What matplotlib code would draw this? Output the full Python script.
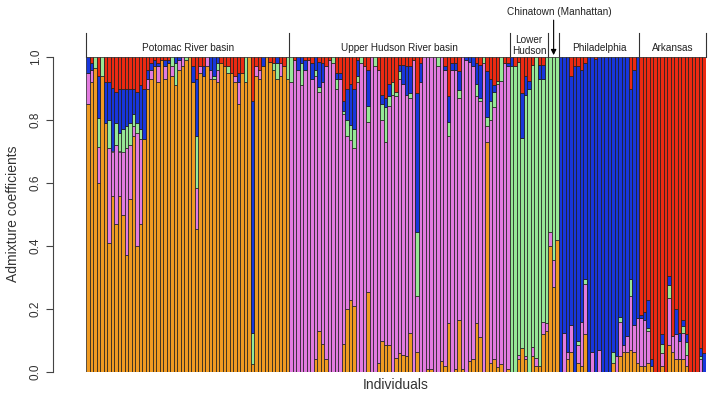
import numpy as np
import matplotlib
matplotlib.use("Agg")
import matplotlib.pyplot as plt
from matplotlib.transforms import blended_transform_factory

plt.rcParams['font.family'] = ['Liberation Sans', 'DejaVu Sans']

group_names = ["Potomac River basin", "Upper Hudson River basin", "Lower\nHudson",
               "Chinatown (Manhattan)", "Philadelphia", "Arkansas"]
cluster_colors = ['#F09A22', '#E27BDF', '#96E896', '#1836DC', '#EC2A12']
y_ticks = [0.0, 0.2, 0.4, 0.6, 0.8, 1.0]
y_tick_labels = ["0.0", "0.2", "0.4", "0.6", "0.8", "1.0"]

# ---- Potomac River basin (58 individuals) ----
potomac_orange = [.85, .92, .965, .60, .94, .79, .41, .56, .47, .56, .50, .37, .55, .75, .40, .47, .74, .90, .93, .97,
                  .92, .99, .93, .98, .94, .91, .96, .97, .99, 1, .92, .455, .95, .94, .97, .93, .93, .92, .98, .97,
                  .95, .95, .92, .85, .95, .92, 1, .025, .94, .93, .97, 1, .985, .96, .93, .94, .97, .93]
potomac_violet = [.10, .04, 0, .115, 0, 0, .30, .14, .25, .14, .20, .34, .17, .03, .36, .27, 0, .03, .03, 0,
                  .05, 0, .04, 0, .03, 0, .03, .03, 0, 0, 0, .13, .02, 0, .03, .03, 0, .04, 0, 0,
                  0, 0, .02, .07, 0, 0, 0, 0, .03, .03, 0, 0, 0, 0, 0, .04, 0, 0]
potomac_green = [0, 0, .035, .09, .06, 0, .09, 0, .07, .06, .07, .07, .07, .04, .03, .03, 0, 0, 0, 0,
                 0, 0, 0, 0, .03, .07, 0, 0, .01, 0, 0, .165, 0, 0, 0, 0, .01, .02, 0, 0,
                 .02, 0, 0, 0, 0, .08, 0, .10, 0, 0, 0, 0, 0, .02, .05, 0, 0, .07]
potomac_blue = [.05, .02, 0, .135, 0, .13, .12, .20, .10, .14, .13, .12, .11, .08, .10, .14, .16, .03, .02, .02,
                .01, 0, .02, .01, 0, .02, .01, 0, 0, 0, .05, .18, 0, .03, 0, .04, .06, .02, 0, 0,
                0, 0, 0, .03, 0, 0, 0, .735, 0, 0, .03, 0, 0, 0, .02, 0, 0, 0]
potomac_red = [0, .02, 0, .06, 0, .08, .08, .10, .11, .10, .10, .10, .10, .10, .11, .09, .10, .04, .02, .01,
               .02, .01, .01, .01, 0, 0, 0, 0, 0, 0, .03, .07, .03, .03, 0, 0, 0, 0, .02, .03,
               .03, .05, .06, .05, .05, 0, 0, .14, .03, .04, 0, 0, .015, .02, 0, .02, .03, 0]

# ---- Upper Hudson River basin (63 individuals) ----
uhudson_orange = [0, 0, 0, 0, 0, 0, 0, .04, .13, .09, .04, 0, 0, 0, 0, .09, .20, .23, .21, 0,
                  0, 0, .255, 0, 0, .03, .10, .085, .085, 0, .045, .06, .055, .05, .125, 0, .065, 0, 0, .01,
                  .01, 0, 0, .035, .02, .155, 0, .01, .165, .01, 0, .035, .04, .155, .11, 0, .73, .03, .04, .015,
                  .025, 0, .01]
uhudson_violet = [.92, .99, .96, .91, .96, .99, .93, .90, .76, .83, .93, .99, .98, .90, .93, .73, .55, .505, .50, .92,
                  .98, .97, .54, 1, .97, .93, .70, .645, .76, .88, .83, .87, .86, .83, .745, .99, .175, .92, 1, .99,
                  .99, 1, .97, .965, .94, .595, .96, .95, .705, .99, .99, .95, .93, .72, .75, .98, .05, .77, .80, .90,
                  .90, .98, .96]
uhudson_green = [.08, 0, 0, .07, 0, 0, 0, .02, .015, 0, 0, 0, .02, .03, 0, .01, .05, .05, .06, .02,
                 .02, 0, .05, 0, .03, 0, .05, .11, .03, .04, .015, .025, 0, 0, .015, 0, .205, 0, 0, 0,
                 0, 0, .03, 0, 0, .045, 0, 0, .025, 0, 0, 0, 0, .04, .01, .02, .03, .06, .05, .01,
                 .075, 0, 0]
uhudson_blue = [0, 0, .04, .02, .03, 0, .05, .04, .08, .06, 0, 0, 0, .02, .02, .03, .10, .13, .13, .05,
                0, 0, .115, 0, 0, 0, .03, .03, .04, 0, 0, .02, .06, .09, .085, 0, .44, .06, 0, 0,
                0, 0, 0, 0, .01, .08, .02, .02, .06, 0, .01, .015, .03, .065, .105, 0, .145, .07, .02, 0,
                0, 0, .01]
uhudson_red = [0, .01, 0, 0, .01, .01, .02, 0, .015, .02, .03, .01, 0, .05, .05, .14, .10, .085, .10, .01,
               0, .03, .04, 0, 0, .04, .12, .13, .085, .08, .11, .025, .025, .03, .03, .01, .115, .02, 0, 0,
               0, 0, 0, 0, .03, .125, .02, .02, .045, 0, 0, 0, 0, .02, .025, 0, .045, .07, .09, .075,
               0, .02, .02]

# ---- Lower Hudson (11 individuals) ----
lhudson_orange = [0, 0, .04, .075, .04, 0, .05, .02, .02, .12, .13]
lhudson_violet = [0, 0, .015, 0, .01, 0, .03, .025, 0, .04, .025]
lhudson_green = [.97, .97, .93, .667, .83, .90, .895, .955, .91, .77, .845]
lhudson_blue = [.03, 0, 0, .143, .06, .025, 0, 0, .045, .045, 0]
lhudson_red = [0, .03, .015, .115, .06, .075, .025, 0, .025, .025, 0]

# ---- Chinatown (Manhattan) (3 individuals) ----
china_orange = [.40, .27, .42]
china_violet = [.045, .085, 0]
china_green = [.555, .645, .58]
china_blue = [0, 0, 0]
china_red = [0, 0, 0]

# ---- Philadelphia (23 individuals) ----
phila_orange = [0, 0, .04, .065, 0, .027, .02, .12, 0, 0, 0, 0, 0, 0, 0, .03, 0, .05, .065, .065, .07, .065, .03]
phila_violet = [0, .125, .025, .085, 0, .06, .14, .16, 0, .065, 0, .07, 0, 0, 0, 0, .05, .11, .02, .05, .17, .085, .14]
phila_green = [0, 0, 0, 0, 0, .01, 0, .015, 0, 0, 0, 0, 0, 0, 0, .035, 0, .015, 0, 0, .055, 0, 0]
phila_blue = [1, .875, .935, .79, .97, .873, .80, .685, 1, .935, .995, .93, 1, 1, 1, .935, .95, .825, .915, .885, .605, .81, .83]
phila_red = [0, 0, 0, .06, .03, .03, .04, .02, 0, 0, .005, 0, 0, 0, 0, 0, 0, 0, 0, 0, .10, .04, 0]

# ---- Arkansas (19 individuals) ----
ark_orange = [.02, .02, .03, .02, 0, 0, .02, 0, .085, .065, .04, .04, .04, .02, 0, 0, 0, 0, 0]
ark_violet = [.15, .145, .10, 0, 0, 0, .04, 0, .15, .05, .08, .06, .085, .035, 0, 0, 0, .04, 0]
ark_green = [0, 0, .01, 0, 0, 0, .03, 0, .04, 0, 0, 0, .02, .04, 0, 0, 0, .01, 0]
ark_blue = [.01, .025, .09, .02, 0, 0, .03, 0, .03, 0, .08, .025, .02, .025, 0, 0, 0, .025, .06]
ark_red = [.82, .81, .77, .96, 1, 1, .88, 1, .695, .885, .80, .875, .835, .88, 1, 1, 1, .925, .94]

orange = potomac_orange + uhudson_orange + lhudson_orange + china_orange + phila_orange + ark_orange
violet = potomac_violet + uhudson_violet + lhudson_violet + china_violet + phila_violet + ark_violet
green = potomac_green + uhudson_green + lhudson_green + china_green + phila_green + ark_green
blue = potomac_blue + uhudson_blue + lhudson_blue + china_blue + phila_blue + ark_blue
red = potomac_red + uhudson_red + lhudson_red + china_red + phila_red + ark_red
group_sizes = [len(potomac_orange), len(uhudson_orange), len(lhudson_orange),
               len(china_orange), len(phila_orange), len(ark_orange)]

components = [np.array(c, dtype=float) for c in (orange, violet, green, blue, red)]
n = len(orange)
x = np.arange(n)

fig = plt.figure(figsize=(7.2, 4.0), dpi=100)
ax = fig.add_axes([86 / 720, 28 / 400, 620 / 720, 315 / 400])

bottom = np.zeros(n)
for vals, col in zip(components, cluster_colors):
    m = vals > 0
    ax.bar(x[m], vals[m], width=1.0, bottom=bottom[m], color=col,
           edgecolor='#1c1c1c', linewidth=0.5, align='center')
    bottom += vals

ax.set_xlim(-0.5, n - 0.5)
ax.set_ylim(0, 1.0)
ax.set_xticks([])
for s in ('top', 'right', 'bottom'):
    ax.spines[s].set_visible(False)
ax.spines['left'].set_position(('outward', 24))
ax.spines['left'].set_bounds(0, 1)
ax.spines['left'].set_color('#444444')
ax.spines['left'].set_linewidth(0.8)
ax.set_yticks(y_ticks)
ax.set_yticklabels(y_tick_labels)
ax.tick_params(axis='y', length=5, width=0.8, color='#444444', labelsize=8.5,
               labelcolor='#333333', pad=3)
for lab in ax.get_yticklabels():
    lab.set_rotation(90)
    lab.set_va('center')

fig.text(13 / 720, 1 - 214 / 400, "Admixture coefficients", rotation=90,
         ha='center', va='center', fontsize=10, color='#333333')
fig.text(396 / 720, 1 - 385 / 400, "Individuals", ha='center', va='center',
         fontsize=10, color='#333333')

# group header
tr = blended_transform_factory(ax.transData, ax.transAxes)
edges = np.concatenate([[0], np.cumsum(group_sizes)]) - 0.5
for e in edges:
    ax.plot([e, e], [1.0, 1.076], transform=tr, color='#333333', lw=0.8, clip_on=False)
centers = (edges[:-1] + edges[1:]) / 2
for i, (name, c) in enumerate(zip(group_names, centers)):
    if i == 3:
        ax.text(c + 1.6, 1.143, name, transform=tr, ha='center', va='center', fontsize=7.2, color='#222222')
        ax.annotate('', xy=(c, 1.006), xytext=(c, 1.117), xycoords=tr, textcoords=tr,
                    arrowprops=dict(arrowstyle='-|>', color='black', lw=0.8,
                                    mutation_scale=8, shrinkA=0, shrinkB=0))
    elif i == 2:
        ax.text(c, 1.036, name, transform=tr, ha='center', va='center', fontsize=7.2,
                color='#222222', linespacing=1.1)
    else:
        ax.text(c, 1.028, name, transform=tr, ha='center', va='center', fontsize=7.2, color='#222222')

fig.savefig("out.png", dpi=100)
